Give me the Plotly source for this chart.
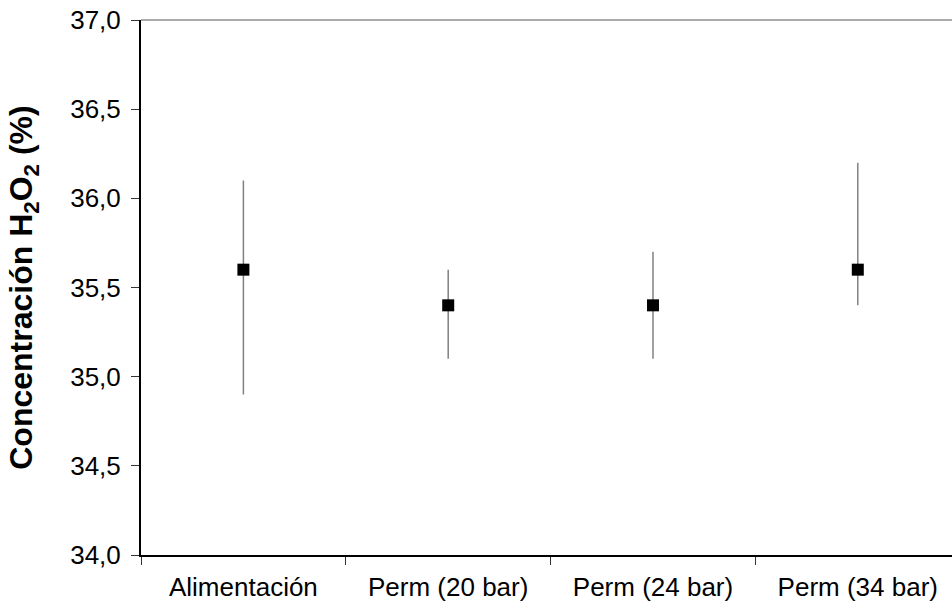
import plotly.graph_objects as go

# Muestras y concentración de H2O2 (%) con barras de error asimétricas
categorias = ["Alimentación", "Perm (20 bar)", "Perm (24 bar)", "Perm (34 bar)"]
concentracion = [35.6, 35.4, 35.4, 35.6]
error_sup = [0.5, 0.2, 0.3, 0.6]
error_inf = [0.7, 0.3, 0.3, 0.2]

y_ticks = [34.0, 34.5, 35.0, 35.5, 36.0, 36.5, 37.0]
x_rango = [-0.5, 3.46]
y_rango = [34.0, 37.0]

fuente = "Liberation Sans, Arial, sans-serif"

fig = go.Figure()
fig.add_trace(go.Scatter(
    x=categorias,
    y=concentracion,
    mode="markers",
    marker=dict(symbol="square", size=12, color="black"),
    error_y=dict(
        type="data",
        symmetric=False,
        array=error_sup,
        arrayminus=error_inf,
        color="#808080",
        thickness=1.5,
        width=0,
    ),
    showlegend=False,
))

fig.update_layout(
    width=952,
    height=609,
    margin=dict(l=141, r=0, t=20, b=54),
    paper_bgcolor="white",
    plot_bgcolor="white",
    separators=",.",
    font=dict(family=fuente, size=26, color="black"),
    xaxis=dict(
        type="category",
        range=x_rango,
        tickson="boundaries",
        ticks="outside",
        ticklen=8,
        tickwidth=1,
        tickcolor="#333333",
        showline=True,
        linecolor="black",
        linewidth=1.5,
        showgrid=False,
        zeroline=False,
        ticklabelstandoff=8,
        tickfont=dict(family=fuente, size=26, color="black"),
    ),
    yaxis=dict(
        range=y_rango,
        tickvals=y_ticks,
        tickformat=".1f",
        ticks="outside",
        ticklen=8,
        tickwidth=1,
        tickcolor="#333333",
        showline=True,
        linecolor="black",
        linewidth=2,
        showgrid=False,
        zeroline=False,
        ticklabelstandoff=5,
        tickfont=dict(family=fuente, size=26, color="black"),
        title=dict(
            text="<b>Concentración H<sub>2</sub>O<sub>2</sub> (%)</b>",
            font=dict(family=fuente, size=32, color="black"),
            standoff=28,
        ),
    ),
    # ejes superpuestos para que las marcas crucen la línea del eje
    xaxis2=dict(
        overlaying="x",
        anchor="y",
        side="bottom",
        range=x_rango,
        tickvals=[-0.5, 0.5, 1.5, 2.5],
        ticks="inside",
        ticklen=7,
        tickwidth=1,
        tickcolor="#333333",
        showticklabels=False,
        showline=False,
        showgrid=False,
        zeroline=False,
    ),
    yaxis2=dict(
        overlaying="y",
        anchor="x",
        side="left",
        range=y_rango,
        tickvals=y_ticks,
        ticks="inside",
        ticklen=7,
        tickwidth=1,
        tickcolor="#333333",
        showticklabels=False,
        showline=False,
        showgrid=False,
        zeroline=False,
    ),
    shapes=[dict(
        type="line", xref="paper", yref="paper",
        x0=0, x1=1, y0=1, y1=1,
        line=dict(color="#555555", width=1),
    )],
)

fig.write_html("out.html")
